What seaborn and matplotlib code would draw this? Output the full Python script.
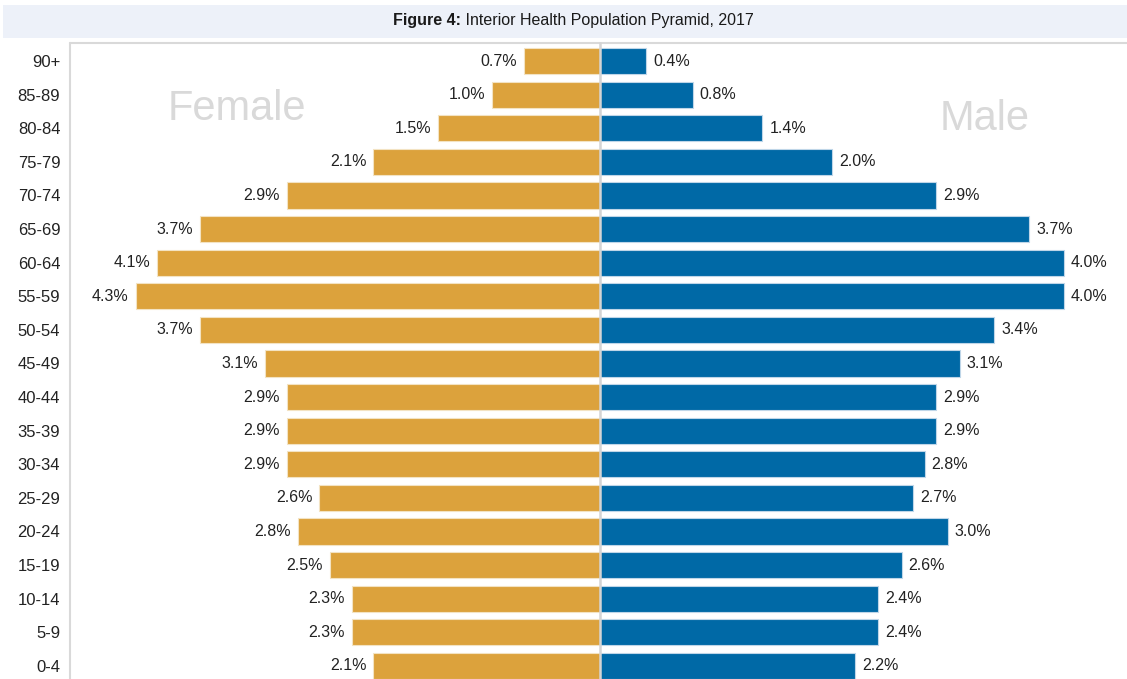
import matplotlib
matplotlib.use("Agg")
import matplotlib.pyplot as plt
import seaborn as sns
import pandas as pd
from matplotlib.patches import Rectangle
from matplotlib.lines import Line2D

age_groups = ["90+", "85-89", "80-84", "75-79", "70-74", "65-69", "60-64", "55-59",
              "50-54", "45-49", "40-44", "35-39", "30-34", "25-29", "20-24", "15-19",
              "10-14", "5-9", "0-4"]
female_pct = [0.7, 1.0, 1.5, 2.1, 2.9, 3.7, 4.1, 4.3, 3.7, 3.1, 2.9, 2.9, 2.9, 2.6, 2.8, 2.5, 2.3, 2.3, 2.1]
male_pct = [0.4, 0.8, 1.4, 2.0, 2.9, 3.7, 4.0, 4.0, 3.4, 3.1, 2.9, 2.9, 2.8, 2.7, 3.0, 2.6, 2.4, 2.4, 2.2]

title_bold = "Figure 4:"
title_rest = " Interior Health Population Pyramid, 2017"

female_color = "#DCA23C"
male_color = "#0069A6"

sns.set_theme(style="white")
plt.rcParams["font.family"] = ["Liberation Sans Narrow", "Liberation Sans", "DejaVu Sans"]

df = pd.DataFrame({"age": age_groups, "female": female_pct, "male": male_pct})

W, H = 1127, 679
fig = plt.figure(figsize=(W / 100, H / 100), dpi=100)

top_px = 43
x0, xc = 70, 600
axF = fig.add_axes([x0 / W, 0, (xc - x0) / W, (H - top_px) / H])
axM = fig.add_axes([xc / W, 0, (W - xc) / W, (H - top_px) / H])

sns.barplot(data=df, y="age", x="female", order=age_groups, color=female_color,
            orient="h", width=0.78, ax=axF, edgecolor="#F3E3C3", linewidth=0.8, saturation=1)
sns.barplot(data=df, y="age", x="male", order=age_groups, color=male_color,
            orient="h", width=0.78, ax=axM, edgecolor="#BFD6E8", linewidth=0.8, saturation=1)

axF.set_xlim(530 / 108, 0)
axM.set_xlim(0, 527 / 116)
for ax in (axF, axM):
    ax.set_ylim(18.39, -0.536)
    ax.set_xlabel("")
    ax.set_ylabel("")
    ax.set_xticks([])
    for s in ax.spines.values():
        s.set_visible(False)

axM.set_yticks([])
axF.set_yticks(range(len(age_groups)))
axF.set_yticklabels(age_groups, fontsize=12, color="#222222")
axF.tick_params(axis="y", length=0, pad=7)

axF.bar_label(axF.containers[0], labels=[f"{v:.1f}%" for v in female_pct],
              padding=5, fontsize=11.5, color="#222222")
axM.bar_label(axM.containers[0], labels=[f"{v:.1f}%" for v in male_pct],
              padding=5, fontsize=11.5, color="#222222")

# frame lines
fig.add_artist(Line2D([x0 / W, x0 / W], [0, (H - top_px) / H], color="#D9D9D9", lw=1.5))
fig.add_artist(Line2D([x0 / W, 1], [(H - top_px) / H, (H - top_px) / H], color="#D9D9D9", lw=1.5))
fig.add_artist(Line2D([xc / W, xc / W], [0, (H - top_px) / H], color="#D4D4D4", lw=1.8, zorder=10))

# title bar
fig.patches.append(Rectangle((3 / W, (H - 38) / H), (W - 3) / W, 33 / H,
                             transform=fig.transFigure, facecolor="#EDF1F9",
                             edgecolor="none", zorder=0))
fs_title = 11.5
t1 = fig.text(571 / W, (H - 21) / H, title_bold + title_rest, ha="center", va="center",
              fontsize=fs_title, color="#1a1a1a", alpha=0)
fig.canvas.draw()
bb = t1.get_window_extent()
tb = fig.text(bb.x0 / W, (H - 21) / H, title_bold, ha="left", va="center",
              fontsize=fs_title, fontweight="bold", color="#1a1a1a")
fig.canvas.draw()
bb2 = tb.get_window_extent()
fig.text(bb2.x1 / W, (H - 21) / H, title_rest, ha="left", va="center",
         fontsize=fs_title, color="#1a1a1a")

fig.text(237 / W, (H - 109) / H, "Female", ha="center", va="center",
         fontsize=30, color="#D9D9D9")
fig.text(985 / W, (H - 119) / H, "Male", ha="center", va="center",
         fontsize=30, color="#D9D9D9")

fig.savefig("out.png", dpi=100)
